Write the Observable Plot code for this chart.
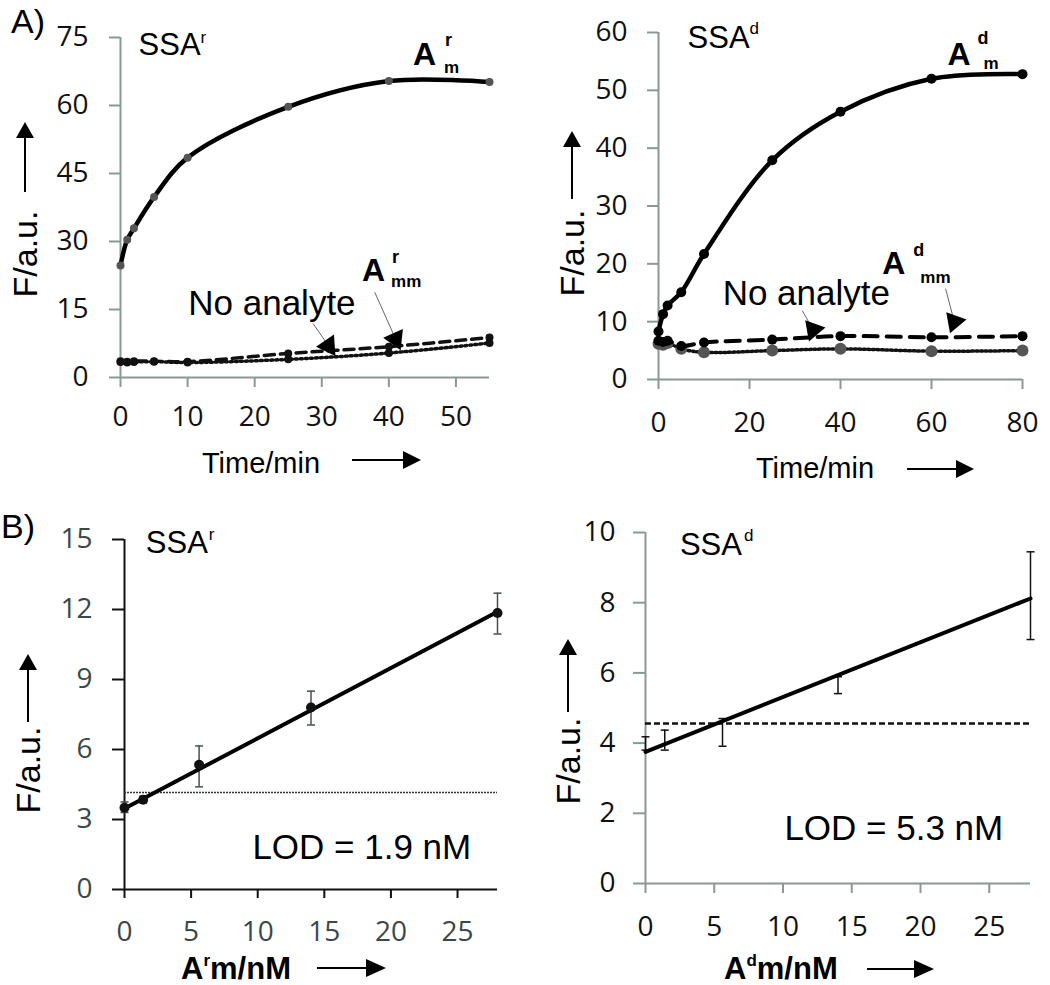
<!DOCTYPE html>
<html><head><meta charset="utf-8">
<script src="https://cdn.jsdelivr.net/npm/d3@7"></script>
<script src="https://cdn.jsdelivr.net/npm/@observablehq/plot@0.6"></script>
<style>
body{margin:0;background:#fff}
#root{position:relative;width:1050px;height:985px;overflow:hidden;background:#fff}
</style></head><body><div id="root"></div>
<script>
// ---------- Panel A (left): SSA^r kinetics ----------
const timeAr = [0, 1, 2, 5, 10, 25, 40, 55];
const amAr   = [24.7, 30.4, 32.9, 39.8, 48.5, 59.7, 65.4, 65.2];
const ammAr  = [3.6, 3.5, 3.6, 3.6, 3.5, 5.3, 6.8, 8.8];
const noAr   = [3.4, 3.3, 3.4, 3.5, 3.3, 4.0, 5.4, 7.6];
const xTicksA1 = [0, 10, 20, 30, 40, 50];
const yTicksA1 = [0, 15, 30, 45, 60, 75];

// ---------- Panel A (right): SSA^d kinetics ----------
const timeAd = [0, 1, 2, 5, 10, 25, 40, 60, 80];
const amAd   = [8.3, 11.3, 12.8, 15.1, 21.7, 37.9, 46.3, 52.0, 52.8];
const ammAd  = [6.7, 6.5, 6.7, 5.8, 6.4, 6.9, 7.5, 7.3, 7.5];
const noAd   = [6.2, 6.0, 6.3, 5.3, 4.7, 5.0, 5.3, 4.9, 5.0];
const xTicksA2 = [0, 20, 40, 60, 80];
const yTicksA2 = [0, 10, 20, 30, 40, 50, 60];

// ---------- Panel B (left): SSA^r calibration ----------
const concR  = [0, 1.4, 5.6, 14, 28];
const fR     = [3.5, 3.85, 5.35, 7.8, 11.85];
const loR    = [3.3, 3.7, 4.4, 7.05, 10.95];
const hiR    = [3.75, 4.0, 6.15, 8.5, 12.7];
const fitXR  = [0, 28];
const fitYR  = [3.47, 11.9];
const lodR   = 4.16;
const xTicksB = [0, 5, 10, 15, 20, 25];
const yTicksB1 = [0, 3, 6, 9, 12, 15];

// ---------- Panel B (right): SSA^d calibration ----------
const concD  = [0, 1.4, 5.6, 14, 28];
const loD    = [3.8, 3.8, 3.91, 5.41, 6.95];
const hiD    = [4.18, 4.37, 4.7, 5.89, 9.45];
const fitXD  = [0, 28];
const fitYD  = [3.75, 8.12];
const lodD   = 4.56;
const yTicksB2 = [0, 2, 4, 6, 8, 10];

// ---------- helpers ----------
const AX = "#8a9896";
const TF = '"Open Sans", "DejaVu Sans", sans-serif';
const LF = '"Liberation Sans", Arial, sans-serif';
const root = document.getElementById("root");
function place(svg, left, top) {
  svg.style.position = "absolute"; svg.style.left = left + "px"; svg.style.top = top + "px";
  root.appendChild(svg);
}
function st() { return {fontFamily: TF, fontSize: "28px", background: "transparent", overflow: "visible"}; }
function ann(x, y, parts) {
  return parts.map(p => Plot.text([p.t], {x, y, text: d => d, dx: p.dx || 0, dy: p.dy || 0,
    fontSize: p.s, fontWeight: p.w || "normal", fontFamily: LF, textAnchor: "start", lineAnchor: "middle", fill: "#000"}));
}
// axis ticks (Plot axis marks, labels blank) + tick labels (text marks in scale space)
function axes(xt, yt, o) {
  return [
    Plot.axisY({ticks: yt, tickSize: o.ys, tickFormat: () => "", stroke: o.ax, strokeWidth: 2, label: null}),
    Plot.axisX({ticks: xt, tickSize: o.xs, tickFormat: () => "", stroke: o.ax, strokeWidth: 2, label: null}),
    Plot.text(yt, {y: d => d, text: d => String(d), frameAnchor: "left", textAnchor: "end", lineAnchor: "middle",
      dx: -o.yoff, fontSize: 28, fontFamily: TF, fill: o.tc}),
    Plot.text(xt, {x: d => d, text: d => String(d), frameAnchor: "bottom", lineAnchor: "middle",
      dy: o.xoff, fontSize: 28, fontFamily: TF, fill: o.tc}),
    Plot.ruleX([0], {stroke: o.ax, strokeWidth: 2}),
    Plot.ruleY([0], {stroke: o.ax, strokeWidth: 2})
  ];
}
const capSym = {draw(ctx, size) { const w = Math.sqrt(size / Math.PI); ctx.moveTo(-w, 0); ctx.lineTo(w, 0); }};
const zip = (xs, o) => xs.map((x, i) => { const r = {x}; for (const k in o) r[k] = o[k][i]; return r; });

// ---------- A left ----------
const rowsA1 = zip(timeAr, {m: amAr, mm: ammAr, no: noAr});
place(Plot.plot({
  width: 520, height: 480, marginLeft: 120, marginRight: 31, marginTop: 37, marginBottom: 103,
  x: {domain: [0, 55]}, y: {domain: [0, 75]}, style: st(),
  marks: [
    ...axes(xTicksA1, yTicksA1, {ys: 11, xs: 10, yoff: 32, xoff: 40, ax: AX, tc: "#111"}),
    Plot.line(rowsA1, {x: "x", y: "no", stroke: "#111", strokeWidth: 3.5, strokeDasharray: "2,3", curve: "catmull-rom"}),
    Plot.line(rowsA1, {x: "x", y: "mm", stroke: "#111", strokeWidth: 3.5, strokeDasharray: "10,6", curve: "catmull-rom"}),
    Plot.dot(rowsA1, {x: "x", y: "no", r: 4, fill: "#111"}),
    Plot.dot(rowsA1, {x: "x", y: "mm", r: 4, fill: "#111"}),
    Plot.line(rowsA1, {x: "x", y: "m", stroke: "#000", strokeWidth: 4.5, curve: "catmull-rom"}),
    Plot.dot(rowsA1, {x: "x", y: "m", r: 4, fill: "#555"}),
    Plot.link([0], {x1: 28.7, y1: 11.9, x2: 31.0, y2: 7.0, stroke: "#666", strokeWidth: 1}),
    Plot.dot([0], {x: 31.0, y: 7.0, symbol: "triangle", r: 8, rotate: 146, fill: "#000"}),
    Plot.link([0], {x1: 37.9, y1: 18.8, x2: 41.0, y2: 8.5, stroke: "#666", strokeWidth: 1}),
    Plot.dot([0], {x: 41.0, y: 8.5, symbol: "triangle", r: 8, rotate: 156, fill: "#000"}),
    ...ann(2.7, 73.3, [{t: "SSA", s: 31}, {t: "r", s: 17, dx: 62, dy: -8}]),
    ...ann(43.6, 71.1, [{t: "A", s: 32, w: "bold"}, {t: "r", s: 18, w: "bold", dx: 32, dy: -15}, {t: "m", s: 17, w: "bold", dx: 31, dy: 12}]),
    ...ann(10.1, 16.3, [{t: "No analyte", s: 35}]),
    ...ann(36.0, 23.6, [{t: "A", s: 32, w: "bold"}, {t: "r", s: 18, w: "bold", dx: 30, dy: -13}, {t: "mm", s: 17, w: "bold", dx: 29, dy: 11}])
  ]
}), 0, 0);

// ---------- A right ----------
const rowsA2 = zip(timeAd, {m: amAd, mm: ammAd, no: noAd});
place(Plot.plot({
  width: 530, height: 480, marginLeft: 138, marginRight: 28, marginTop: 32, marginBottom: 101,
  x: {domain: [0, 80]}, y: {domain: [0, 60]}, style: st(),
  marks: [
    ...axes(xTicksA2, yTicksA2, {ys: 11, xs: 10, yoff: 31, xoff: 44, ax: AX, tc: "#111"}),
    Plot.line(rowsA2, {x: "x", y: "no", stroke: "#111", strokeWidth: 3.5, strokeDasharray: "2,2.5", curve: "catmull-rom"}),
    Plot.dot(rowsA2, {x: "x", y: "no", r: 6, fill: "#555"}),
    Plot.line(rowsA2, {x: "x", y: "mm", stroke: "#000", strokeWidth: 4, strokeDasharray: "14,9", curve: "catmull-rom"}),
    Plot.dot(rowsA2, {x: "x", y: "mm", r: 5, fill: "#000"}),
    Plot.line(rowsA2, {x: "x", y: "m", stroke: "#000", strokeWidth: 4.5, curve: "catmull-rom"}),
    Plot.dot(rowsA2, {x: "x", y: "m", r: 5, fill: "#000"}),
    Plot.link([0], {x1: 31.6, y1: 11.9, x2: 34.0, y2: 8.6, stroke: "#666", strokeWidth: 1}),
    Plot.dot([0], {x: 34.0, y: 8.6, symbol: "triangle", r: 8, rotate: 200, fill: "#000"}),
    Plot.link([0], {x1: 63.1, y1: 15.7, x2: 65.0, y2: 10.0, stroke: "#666", strokeWidth: 1}),
    Plot.dot([0], {x: 65.0, y: 10.0, symbol: "triangle", r: 8, rotate: 200, fill: "#000"}),
    ...ann(6.4, 59.0, [{t: "SSA", s: 31}, {t: "d", s: 17, dx: 62, dy: -10}]),
    ...ann(63.5, 56.1, [{t: "A", s: 32, w: "bold"}, {t: "d", s: 18, w: "bold", dx: 30, dy: -17}, {t: "m", s: 17, w: "bold", dx: 36, dy: 8}]),
    ...ann(14.1, 14.9, [{t: "No analyte", s: 35}]),
    ...ann(49.2, 20.1, [{t: "A", s: 32, w: "bold"}, {t: "d", s: 18, w: "bold", dx: 31, dy: -13}, {t: "mm", s: 17, w: "bold", dx: 38, dy: 14}])
  ]
}), 520, 0);

// ---------- B left ----------
const rowsB1 = zip(concR, {f: fR, lo: loR, hi: hiR});
const fitB1 = zip(fitXR, {y: fitYR});
place(Plot.plot({
  width: 520, height: 505, marginLeft: 124, marginRight: 23, marginTop: 59, marginBottom: 96,
  x: {domain: [0, 28]}, y: {domain: [0, 15]}, style: st(),
  marks: [
    ...axes(xTicksB, yTicksB1, {ys: 12, xs: 9, yoff: 32, xoff: 43, ax: "#111", tc: "#3b4848"}),
    Plot.ruleY([lodR], {x1: 0, x2: 28, stroke: "#333", strokeWidth: 1.5, strokeDasharray: "2,1"}),
    Plot.ruleX(rowsB1, {x: "x", y1: "lo", y2: "hi", stroke: "#44504f", strokeWidth: 1.5}),
    Plot.dot(rowsB1, {x: "x", y: "lo", symbol: capSym, r: 4, stroke: "#44504f", strokeWidth: 1.5, fill: "none"}),
    Plot.dot(rowsB1, {x: "x", y: "hi", symbol: capSym, r: 4, stroke: "#44504f", strokeWidth: 1.5, fill: "none"}),
    Plot.line(fitB1, {x: "x", y: "y", stroke: "#000", strokeWidth: 4}),
    Plot.dot(rowsB1, {x: "x", y: "f", r: 5, fill: "#111"}),
    ...ann(1.6, 14.85, [{t: "SSA", s: 31}, {t: "r", s: 17, dx: 63, dy: -8}]),
    ...ann(9.6, 1.8, [{t: "LOD = 1.9 nM", s: 35}])
  ]
}), 0, 480);

// ---------- B right ----------
const rowsB2 = zip(concD, {lo: loD, hi: hiD});
const fitB2 = zip(fitXD, {y: fitYD});
place(Plot.plot({
  width: 530, height: 505, marginLeft: 125, marginRight: 20, marginTop: 52, marginBottom: 102,
  x: {domain: [0, 28]}, y: {domain: [0, 10]}, style: st(),
  marks: [
    ...axes(xTicksB, yTicksB2, {ys: 12, xs: 10, yoff: 30, xoff: 44, ax: AX, tc: "#111"}),
    Plot.ruleY([lodD], {x1: 0, x2: 28, stroke: "#111", strokeWidth: 2.5, strokeDasharray: "6,3"}),
    Plot.ruleX(rowsB2, {x: "x", y1: "lo", y2: "hi", stroke: "#111", strokeWidth: 1.5}),
    Plot.dot(rowsB2, {x: "x", y: "lo", symbol: capSym, r: 4, stroke: "#111", strokeWidth: 1.5, fill: "none"}),
    Plot.dot(rowsB2, {x: "x", y: "hi", symbol: capSym, r: 4, stroke: "#111", strokeWidth: 1.5, fill: "none"}),
    Plot.line(fitB2, {x: "x", y: "y", stroke: "#000", strokeWidth: 4}),
    ...ann(2.5, 9.63, [{t: "SSA", s: 31}, {t: "d", s: 17, dx: 64, dy: -10}]),
    ...ann(10.1, 1.57, [{t: "LOD = 5.3 nM", s: 35}])
  ]
}), 520, 480);

// ---------- overlay: panel letters, axis titles with arrows ----------
const ov = d3.select(root).append("svg").attr("width", 1050).attr("height", 985)
  .style("position", "absolute").style("left", "0px").style("top", "0px").style("pointer-events", "none")
  .style("font-family", LF);
function arrow(x1, y1, x2, y2, hl, hw) {
  const a = Math.atan2(y2 - y1, x2 - x1), c = Math.cos(a), s = Math.sin(a);
  const bx = x2 - hl * c, by = y2 - hl * s;
  ov.append("line").attr("x1", x1).attr("y1", y1).attr("x2", bx).attr("y2", by).attr("stroke", "#000").attr("stroke-width", 2);
  ov.append("path").attr("d", `M${x2},${y2}L${bx - hw * s},${by + hw * c}L${bx + hw * s},${by - hw * c}Z`).attr("fill", "#000");
}
function ylab(cx, cy) {
  ov.append("text").attr("transform", `translate(${cx},${cy}) rotate(-90)`).attr("text-anchor", "middle")
    .attr("dy", "0.35em").attr("font-size", 34).text("F/a.u.");
}
ov.append("text").attr("x", 11).attr("y", 33).attr("font-size", 34).text("A)");
ov.append("text").attr("x", 1).attr("y", 538).attr("font-size", 34).text("B)");
ylab(25, 254); arrow(25, 192, 25, 122, 16, 9);
ylab(572, 253); arrow(572, 199, 572, 131, 16, 9);
ylab(28, 770); arrow(28, 722, 28, 654, 16, 9);
ylab(568, 761); arrow(568, 712, 568, 639, 16, 9);
ov.append("text").attr("x", 261).attr("y", 463).attr("dy", "0.35em").attr("text-anchor", "middle").attr("font-size", 29).text("Time/min");
arrow(352, 460, 421, 460, 18, 9);
ov.append("text").attr("x", 815).attr("y", 468).attr("dy", "0.35em").attr("text-anchor", "middle").attr("font-size", 29).text("Time/min");
arrow(907, 469, 974, 469, 18, 9);
function xlab(x, y, sup) {
  const t = ov.append("text").attr("x", x).attr("y", y).attr("dy", "0.35em").attr("font-size", 31).attr("font-weight", "bold");
  t.append("tspan").text("A");
  t.append("tspan").attr("font-size", 17).attr("dy", "-0.75em").text(sup);
  t.append("tspan").attr("dy", "0.4em").text("m/nM");
}
xlab(181, 968, "r"); arrow(317, 968, 386, 968, 20, 9);
xlab(724, 968, "d"); arrow(867, 969, 934, 969, 20, 9);
</script></body></html>
